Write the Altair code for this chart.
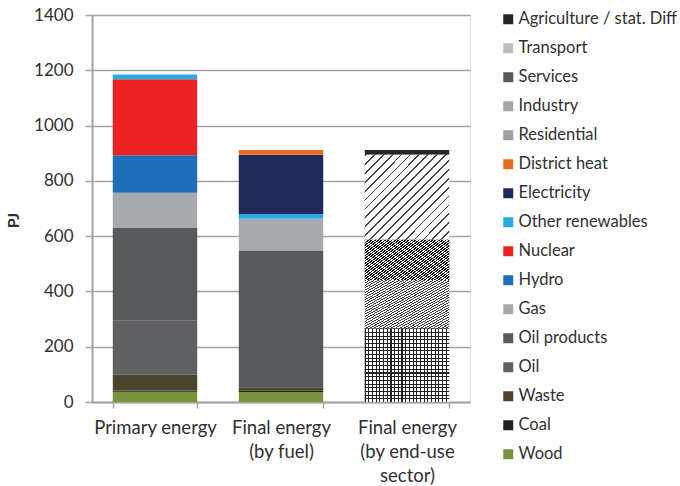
import json
import altair as alt
import pandas as pd

# Stacking order, bottom to top
SERIES = [
    "Wood", "Coal", "Waste", "Oil", "Oil products", "Gas", "Hydro", "Nuclear",
    "Other renewables", "Electricity", "District heat",
    "Residential", "Industry", "Services", "Transport", "Agriculture / stat. Diff",
]
COLORS = [
    "#77933c", "#231f20", "#4a442a", "#5f6062", "#58595b", "#a7a9ac", "#1c6fb8", "#ed2024",
    "#29abe2", "#1f2a5a", "#e46c22",
    "#9e9e9e", "#a6a6a6", "#5a5a5a", "#bdbdbd", "#262626",
]

BARS = ["Primary energy", "Final energy (by fuel)", "Final energy (by end-use sector)"]
BAR_LINES = [["Primary energy"], ["Final energy", "(by fuel)"], ["Final energy", "(by end-use", "sector)"]]

# PJ per series, in SERIES order
PRIMARY = [37, 5, 57, 195, 337, 126, 136, 275, 17, 0, 0, 0, 0, 0, 0, 0]
BY_FUEL = [36, 5, 12, 0, 495, 115, 0, 0, 17, 214, 18, 0, 0, 0, 0, 0]
BY_SECTOR = [0, 0, 0, 0, 0, 0, 0, 0, 0, 0, 0, 267, 174, 147, 306, 18]

rows = []
for bar, vals in zip(BARS, [PRIMARY, BY_FUEL, BY_SECTOR]):
    for i, (s, v) in enumerate(zip(SERIES, vals)):
        if v > 0:
            rows.append({"bar": bar, "series": s, "order": i, "value": v})
df = pd.DataFrame(rows)

FONT = "Lato"
TEXT = "#303030"
GRID = "#a3a3a3"


def stripes(n, ink, paper, frac, x1, y1, x2, y2):
    """Hard-edged repeating linear gradient used as a hatch fill."""
    stops = []
    for i in range(n):
        a, b, c = i / n, (i + frac) / n, (i + 1) / n
        stops += [
            alt.GradientStop(color=ink, offset=round(a, 5)),
            alt.GradientStop(color=ink, offset=round(b, 5)),
            alt.GradientStop(color=paper, offset=round(b, 5)),
            alt.GradientStop(color=paper, offset=round(c, 5)),
        ]
    return alt.Gradient(gradient="linear", stops=stops, x1=x1, y1=y1, x2=x2, y2=y2)


label_expr = " : ".join(
    f"datum.value == {json.dumps(b)} ? {json.dumps(lines)}" for b, lines in zip(BARS, BAR_LINES)
) + " : datum.value"

base = alt.Chart(df).transform_stack(
    stack="value", as_=["y0", "y1"], groupby=["bar"],
    sort=[alt.SortField("order", "ascending")],
)

x_enc = alt.X(
    "bar:N", sort=BARS, title=None,
    scale=alt.Scale(paddingInner=0.33, paddingOuter=0.165),
    axis=alt.Axis(
        labelExpr=label_expr, labelAngle=0, labelFontSize=18.5, labelFont=FONT,
        labelColor=TEXT, labelPadding=10, labelLineHeight=24, labelBaseline="top",
        tickBand="extent", tickSize=6, tickColor=GRID, tickWidth=1.5,
        domainColor=GRID, domainWidth=2, grid=False, labelLimit=200,
    ),
)
y_enc = alt.Y(
    "y0:Q", title="PJ",
    scale=alt.Scale(domain=[0, 1400], nice=False),
    axis=alt.Axis(
        values=list(range(0, 1401, 200)), format="d", labelFontSize=17, labelFont=FONT,
        labelColor=TEXT, labelPadding=12, tickSize=7, tickColor=GRID, tickWidth=1.5,
        domainColor=GRID, domainWidth=2, gridColor=GRID, gridWidth=1.5,
        titleFont=FONT, titleFontSize=16, titleFontWeight="bold", titleColor=TEXT,
        titleX=-74, titleY=205, titleAngle=-90, titleBaseline="alphabetic",
    ),
)

bars = base.mark_bar().encode(
    x=x_enc,
    y=y_enc,
    y2="y1:Q",
    color=alt.Color(
        "series:N", title=None,
        scale=alt.Scale(domain=SERIES[::-1], range=COLORS[::-1]),
        legend=alt.Legend(
            orient="none", legendX=408, legendY=-4, symbolType="square",
            symbolSize=100, symbolStrokeWidth=0, labelFontSize=16.5, labelFont=FONT,
            labelColor=TEXT, labelOffset=2, rowPadding=12, padding=0, labelLimit=200,
        ),
    ),
)


def hatch(series, fill):
    return base.transform_filter(alt.datum.series == series).mark_bar(color=fill).encode(
        x=alt.X("bar:N", sort=BARS), y="y0:Q", y2="y1:Q"
    )


clear = "rgba(255,255,255,0)"
layers = [
    bars,
    hatch("Residential", stripes(20, "#222222", "#ffffff", 0.28, 0, 0, 0, 1)),
    hatch("Residential", stripes(23, "#222222", clear, 0.28, 0, 0, 1, 0)),
    hatch("Industry", stripes(40, "#3a3a3a", "#ffffff", 0.42, 0, 0, 1, 1)),
    hatch("Services", stripes(50, "#111111", "#ffffff", 0.55, 0, 1, 1, 0)),
    hatch("Transport", stripes(19, "#444444", "#ffffff", 0.2, 0, 0, 1, 1)),
]

chart = alt.layer(*layers).properties(
    width=378, height=387,
    autosize=alt.AutoSizeParams(type="none"),
    padding={"left": 92, "top": 15, "right": 210, "bottom": 84},
).configure_view(stroke=None).configure(background="white")

chart.save("out.html", embed_options={"renderer": "svg", "actions": False})
